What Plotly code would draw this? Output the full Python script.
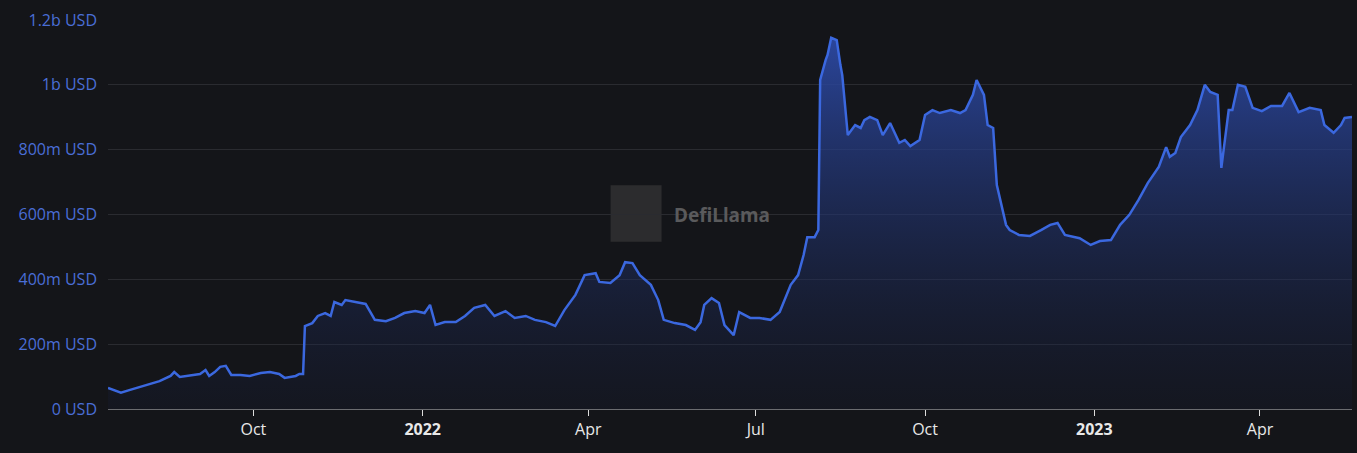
import pandas as pd
import plotly.graph_objects as go

# days since 2021-07-14 and TVL in millions of USD
start_date = "2021-07-14"
day_offsets = [
    0, 4, 7, 12, 17, 23, 28, 34, 36, 39, 45, 50, 53, 55, 58, 61, 64, 67, 72, 77,
    83, 88, 93, 96, 102, 104, 106, 107, 111, 114, 118, 121, 123, 127, 129, 134,
    140, 145, 151, 156, 161, 167, 172, 175, 178, 183, 189, 194, 199, 205, 210,
    216, 221, 227, 232, 238, 243, 248, 254, 259, 265, 267, 273, 278, 281, 285,
    289, 295, 299, 302, 308, 314, 319, 322, 324, 328, 332, 335, 340, 343, 349,
    354, 360, 365, 371, 375, 378, 380, 384, 386, 387, 390, 391, 393, 396, 398,
    399, 402, 406, 409, 411, 414, 418, 421, 425, 430, 433, 436, 441, 444, 448,
    452, 458, 463, 466, 470, 472, 476, 478, 481, 483, 488, 490, 495, 501, 507,
    512, 516, 520, 528, 534, 539, 545, 550, 555, 560, 565, 571, 575, 577, 580,
    583, 588, 592, 596, 599, 603, 605, 609, 611, 614, 618, 622, 627, 632, 638,
    642, 647, 653, 659, 661, 666, 670, 672, 676,
]
tvl_m = [
    65, 56, 50, 59, 68, 77, 86, 102, 114, 99, 105, 108, 120, 102, 114, 130, 133,
    105, 105, 102, 111, 114, 108, 96, 102, 108, 108, 256, 265, 287, 296, 287,
    330, 321, 336, 330, 324, 275, 271, 281, 296, 302, 296, 321, 259, 268, 268,
    287, 312, 321, 287, 302, 281, 287, 275, 268, 256, 305, 352, 413, 419, 392,
    389, 413, 453, 450, 413, 383, 336, 275, 265, 259, 244, 268, 321, 342, 327,
    259, 228, 299, 281, 281, 275, 299, 383, 413, 475, 530, 530, 552, 1015, 1077,
    1092, 1145, 1138, 1061, 1030, 845, 876, 867, 891, 901, 891, 845, 882, 821,
    830, 811, 830, 907, 922, 913, 922, 913, 922, 969, 1015, 969, 876, 867, 691,
    568, 552, 537, 534, 552, 568, 574, 537, 527, 506, 518, 521, 568, 599, 645,
    697, 747, 808, 778, 790, 839, 876, 922, 1000, 978, 969, 744, 922, 922, 1000,
    994, 929, 919, 935, 935, 975, 916, 929, 922, 876, 852, 876, 898, 901,
]
x_tick_dates = ["2021-10-01", "2022-01-01", "2022-04-01", "2022-07-01",
                "2022-10-01", "2023-01-01", "2023-04-01"]
x_tick_labels = ["Oct", "<b>2022</b>", "Apr", "Jul", "Oct", "<b>2023</b>", "Apr"]
y_tick_vals = [0, 200, 400, 600, 800, 1000, 1200]
y_tick_labels = ["0 USD", "200m USD", "400m USD", "600m USD", "800m USD",
                 "1b USD", "1.2b USD"]

dates = pd.to_datetime(start_date) + pd.to_timedelta(day_offsets, unit="D")

fig = go.Figure(
    go.Scatter(
        x=dates,
        y=tvl_m,
        mode="lines",
        line=dict(color="#3b68df", width=2.5),
        fill="tozeroy",
        fillgradient=dict(
            type="vertical",
            colorscale=[[0, "rgba(22,30,60,0.2)"], [1, "rgba(45,75,170,0.9)"]],
        ),
    )
)

fig.update_layout(
    width=1357,
    height=453,
    paper_bgcolor="#141519",
    plot_bgcolor="#141519",
    margin=dict(l=108, r=5, t=20, b=44),
    showlegend=False,
    font=dict(family="Open Sans", size=16),
    xaxis=dict(
        range=[dates[0], dates[-1]],
        tickvals=x_tick_dates,
        ticktext=x_tick_labels,
        showgrid=False,
        showline=True,
        linecolor="#6b6c70",
        ticks="outside",
        ticklen=6,
        tickcolor="#dddddd",
        tickfont=dict(color="#e8e8e8", size=16),
    ),
    yaxis=dict(
        range=[0, 1200],
        tickvals=y_tick_vals,
        ticktext=y_tick_labels,
        gridcolor="#2a2b30",
        zeroline=False,
        ticks="",
        ticklabelstandoff=10,
        tickfont=dict(color="#4a6ed6", size=16),
    ),
)

# watermark
fig.add_shape(type="rect", xref="paper", yref="paper", x0=0.404, x1=0.445,
              y0=0.43, y1=0.575, fillcolor="#2c2c2e", line=dict(width=0),
              layer="below")
fig.add_annotation(text="<b>DefiLlama</b>", xref="paper", yref="paper",
                   x=0.453, y=0.50, xanchor="left", showarrow=False,
                   font=dict(color="#5a5a5c", size=19, family="Noto Sans"))

fig.write_html("out.html", config={"displayModeBar": False})

# drop the default page margin so the chart fills the window
with open("out.html") as f:
    html = f.read()
html = html.replace("<head>", "<head><style>body{margin:0;background:#141519}</style>", 1)
with open("out.html", "w") as f:
    f.write(html)
